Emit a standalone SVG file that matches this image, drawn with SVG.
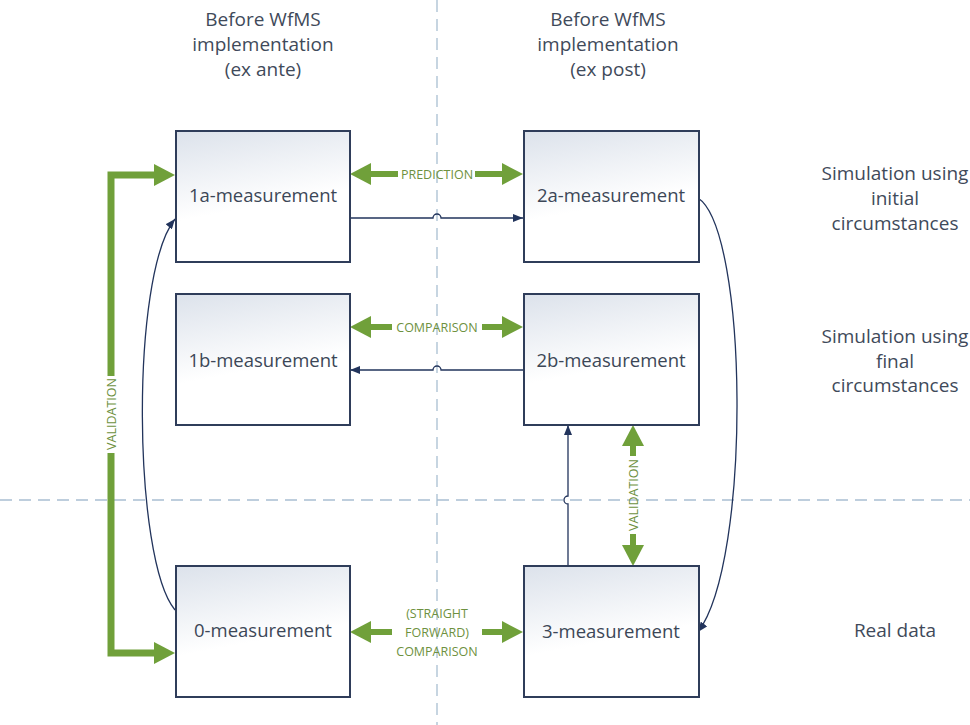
<svg xmlns="http://www.w3.org/2000/svg" width="970" height="725" viewBox="0 0 970 725">
<style>
.box{fill:url(#boxg);stroke:#2f3d5a;stroke-width:2}
.lbl{font-family:"Open Sans","Liberation Sans",sans-serif;font-size:18.5px;fill:#3c4757;text-anchor:middle}
.hdr{font-family:"Open Sans","Liberation Sans",sans-serif;font-size:19px;fill:#3f4a5a;text-anchor:middle}
.gl{font-family:"Open Sans","Liberation Sans",sans-serif;font-size:12.5px;fill:#6e9140;text-anchor:middle}
.dash{stroke:#a9bfd2;stroke-width:1.3;stroke-dasharray:12 7;fill:none}
.gr{stroke:#70a03a;stroke-width:7;fill:none;stroke-linejoin:miter}
.gs{stroke:#70a03a;stroke-width:6;fill:none}
.nv{stroke:#22345c;stroke-width:1.3;fill:none}
</style>
<defs>
<linearGradient id="boxg" x1="0" y1="0" x2="0.25" y2="1">
<stop offset="0" stop-color="#dce2eb"/>
<stop offset="0.65" stop-color="#ffffff"/>
<stop offset="1" stop-color="#ffffff"/>
</linearGradient>
<marker id="gh" markerUnits="userSpaceOnUse" markerWidth="21" markerHeight="22" refX="9" refY="11" orient="auto-start-reverse" viewBox="0 0 21 22">
<path d="M0,0 L21,11 L0,22 z" fill="#70a03a"/>
</marker>
<marker id="nh" markerUnits="userSpaceOnUse" markerWidth="10" markerHeight="8" refX="10" refY="4" orient="auto" viewBox="0 0 10 8">
<path d="M0,0 L10,4 L0,8 z" fill="#22345c"/>
</marker>
</defs>
<rect width="970" height="725" fill="#ffffff"/>
<g id="guides">
<line class="dash" x1="437" y1="0" x2="437" y2="725"/>
<line class="dash" x1="0" y1="500" x2="970" y2="500"/>
</g>
<g id="headers">
<text class="hdr" x="263" y="26">Before WfMS</text>
<text class="hdr" x="263" y="51">implementation</text>
<text class="hdr" x="263" y="76">(ex ante)</text>
<text class="hdr" x="608" y="26">Before WfMS</text>
<text class="hdr" x="608" y="51">implementation</text>
<text class="hdr" x="608" y="76">(ex post)</text>
<text class="hdr" x="895" y="180">Simulation using</text>
<text class="hdr" x="895" y="205">initial</text>
<text class="hdr" x="895" y="230">circumstances</text>
<text class="hdr" x="895" y="343">Simulation using</text>
<text class="hdr" x="895" y="368">final</text>
<text class="hdr" x="895" y="392">circumstances</text>
<text class="hdr" x="895" y="637">Real data</text>
</g>
<g id="connectors">
<path class="nv" d="M350,218 H433 a4,4 0 0 1 8,0 H523" marker-end="url(#nh)"/>
<path class="nv" d="M523,370 H441 a4,4 0 0 0 -8,0 H350" marker-end="url(#nh)"/>
<path class="nv" d="M568,566 V504 a4,4 0 0 1 0,-8 V425" marker-end="url(#nh)"/>
<path class="nv" d="M175,610 C133,560 130,275 175,219" marker-end="url(#nh)"/>
<path class="nv" d="M698,198 C748,230 752,560 698,632" marker-end="url(#nh)"/>
<path class="gr" d="M111,376 V175 H163" marker-end="url(#gh)"/>
<path class="gr" d="M111,453 V653 H163" marker-end="url(#gh)"/>
<text class="gl" transform="translate(115.5,414) rotate(-90)">VALIDATION</text>
<path class="gs" d="M398,174 H362" marker-end="url(#gh)"/>
<path class="gs" d="M475,174 H511" marker-end="url(#gh)"/>
<text class="gl" x="437" y="178.5">PREDICTION</text>
<path class="gs" d="M392,327 H362" marker-end="url(#gh)"/>
<path class="gs" d="M482,327 H511" marker-end="url(#gh)"/>
<text class="gl" x="437" y="331.5">COMPARISON</text>
<path class="gs" d="M392,632 H362" marker-end="url(#gh)"/>
<path class="gs" d="M482,632 H511" marker-end="url(#gh)"/>
<text class="gl" x="437" y="618">(STRAIGHT</text>
<text class="gl" x="437" y="637">FORWARD)</text>
<text class="gl" x="437" y="656">COMPARISON</text>
<path class="gs" d="M633,456 V437" marker-end="url(#gh)"/>
<path class="gs" d="M633,534 V554" marker-end="url(#gh)"/>
<text class="gl" transform="translate(637.5,495) rotate(-90)">VALIDATION</text>
</g>
<g id="n1a"><rect class="box" x="176" y="131" width="174" height="131"/><text class="lbl" x="263" y="202">1a-measurement</text></g>
<g id="n2a"><rect class="box" x="524" y="131" width="175" height="131"/><text class="lbl" x="611" y="202">2a-measurement</text></g>
<g id="n1b"><rect class="box" x="176" y="294" width="174" height="131"/><text class="lbl" x="263" y="367">1b-measurement</text></g>
<g id="n2b"><rect class="box" x="524" y="294" width="175" height="131"/><text class="lbl" x="611" y="367">2b-measurement</text></g>
<g id="n0"><rect class="box" x="176" y="566" width="174" height="131"/><text class="lbl" x="263" y="637">0-measurement</text></g>
<g id="n3"><rect class="box" x="524" y="566" width="175" height="131"/><text class="lbl" x="611" y="638">3-measurement</text></g>
</svg>
